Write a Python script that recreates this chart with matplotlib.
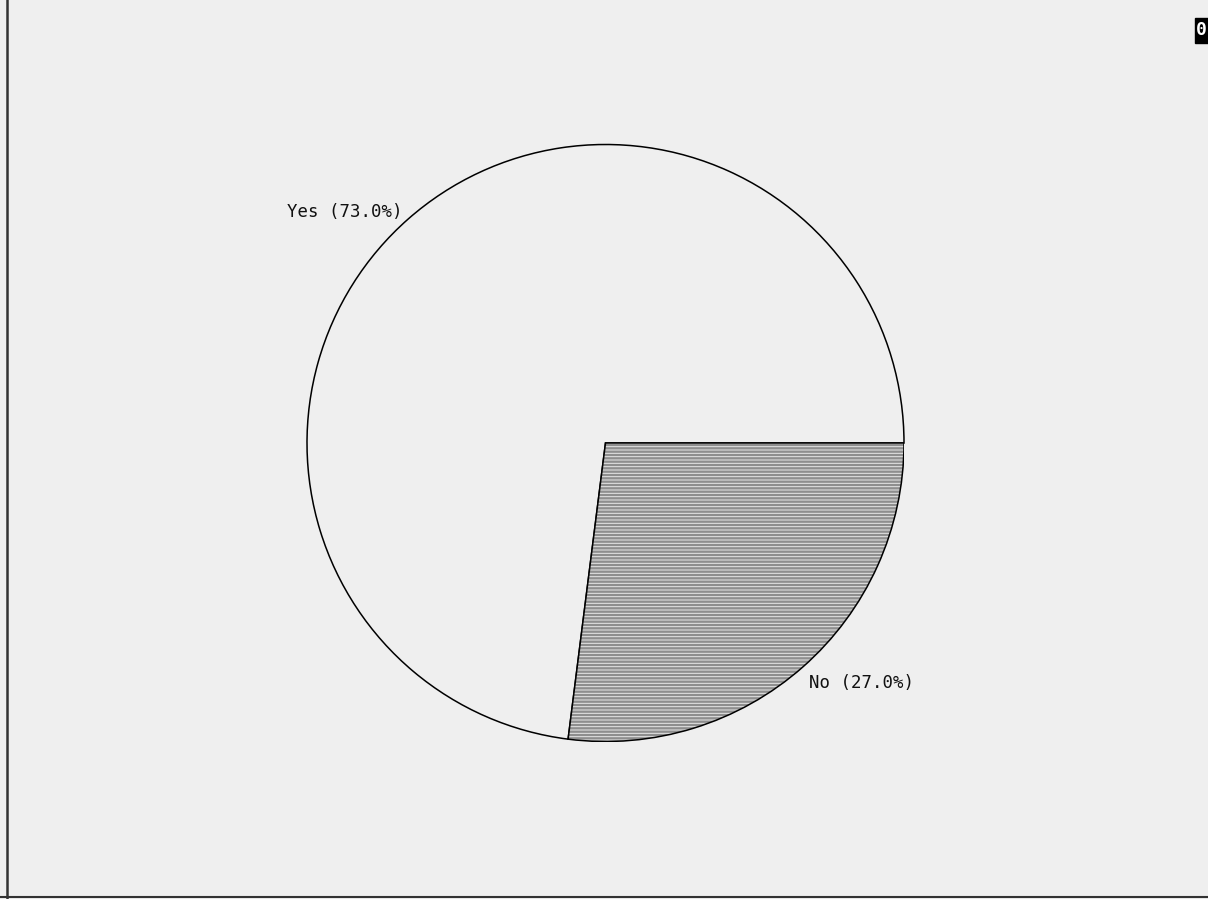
import matplotlib
matplotlib.use("Agg")
import matplotlib.pyplot as plt
from matplotlib.patches import Rectangle, Wedge
import numpy as np

labels = ["Yes", "No"]
values = [73.0, 27.0]

W, H = 1208, 899
fig = plt.figure(figsize=(W / 100, H / 100), dpi=100)
fig.patch.set_facecolor("#efefef")

cx, cy, r = 605.5, 443, 298.5
ax = fig.add_axes([(cx - r) / W, (H - cy - r) / H, 2 * r / W, 2 * r / H])
ax.set_facecolor("none")

plt.rcParams["hatch.linewidth"] = 1.7

wedges, _ = ax.pie(values, startangle=0, counterclock=True,
                   colors=["#efefef", "#e8e8e8"],
                   wedgeprops=dict(edgecolor="black", linewidth=1.1))
# hatch for the "No" slice in gray, outline re-drawn in black
w = wedges[1]
w.set_edgecolor("#8e8e8e")
w.set_linewidth(0)
w.set_hatch("-----")
outline = Wedge(w.center, w.r, w.theta1, w.theta2, fill=False,
                edgecolor="black", linewidth=1.1)
ax.add_patch(outline)
ax.set_xlim(-1, 1)
ax.set_ylim(-1, 1)
ax.set_aspect("auto")

# labels at mid-angle, just outside the circle
start = 0.0
total = sum(values)
for lab, v in zip(labels, values):
    ang = np.deg2rad(start + 360 * v / total / 2)
    start += 360 * v / total
    x, y = 1.03 * np.cos(ang), 1.03 * np.sin(ang)
    ha = "left" if np.cos(ang) >= 0 else "right"
    va = "top" if np.sin(ang) < 0 else "center"
    ax.text(x, y, f"{lab} ({v:.1f}%)", ha=ha, va=va, fontsize=12.5,
            family="DejaVu Sans Mono", color="#111111")

# frame lines (left and bottom)
fig.add_artist(plt.Line2D([7 / W, 7 / W], [0, 1], color="#333333", lw=1.8))
fig.add_artist(plt.Line2D([0, 1], [1 - 897 / H, 1 - 897 / H], color="#333333", lw=1.5))

# partially cut-off black box in top right corner
fig.add_artist(Rectangle((1195 / W, 1 - 43 / H), 20 / W, 25 / H,
                         transform=fig.transFigure, color="black"))
fig.text(1196 / W, 1 - 30 / H, "0", color="white", fontsize=13,
         ha="left", va="center", family="DejaVu Sans Mono", fontweight="bold")

fig.savefig("out.png", dpi=100, facecolor=fig.get_facecolor())
